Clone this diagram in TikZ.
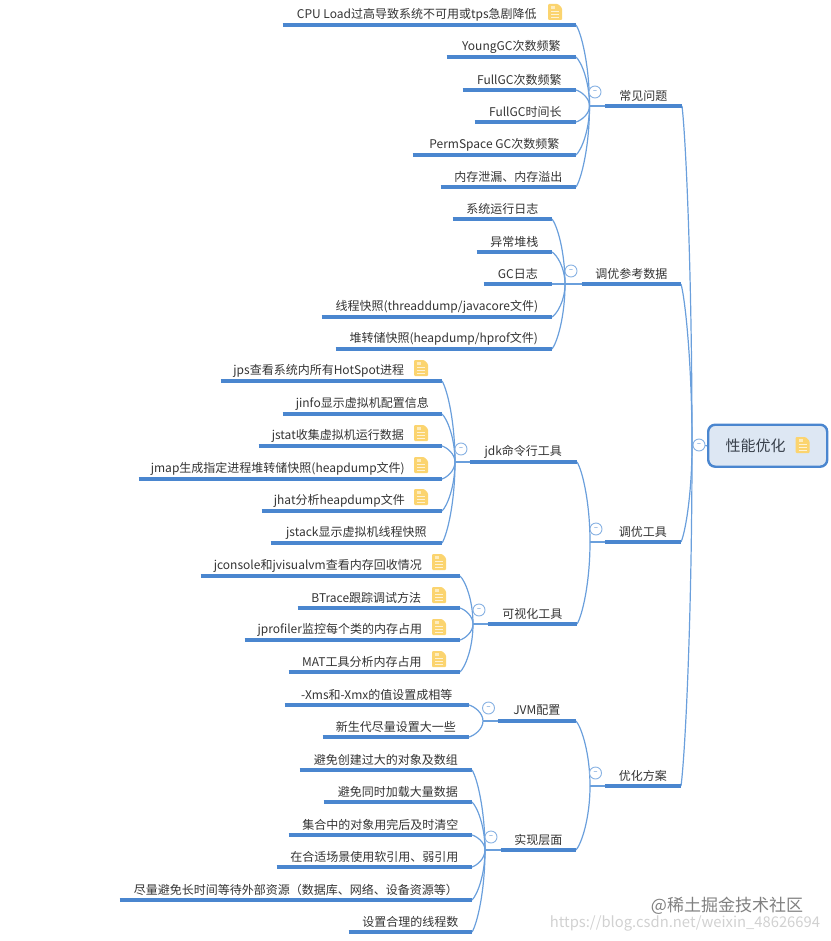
\documentclass[tikz,border=0pt]{standalone}
\usepackage{fontspec}
\setmainfont{Noto Sans CJK SC}
\usepackage{xcolor}
\usetikzlibrary{shapes,arrows,positioning,calc}
\definecolor{mapline}{HTML}{4A86CF}
\definecolor{maplink}{HTML}{6A9FDC}
\definecolor{mapfill}{HTML}{DDE7F3}
\definecolor{notefill}{HTML}{FBD46F}
\definecolor{maptext}{HTML}{333333}
\newcommand{\notegap}{\hspace*{25pt}}
\newcommand{\branch}[2]{\draw[link] let \p1=(#1), \p2=(#2.south east) in (#1) .. controls (\x1,{0.5*\y1+0.5*\y2}) and ({0.6*\x2+0.4*\x1},{0.9*\y2+0.1*\y1}) .. (\p2);}
\tikzset{
  leaf/.style={anchor=south east, inner sep=0pt, minimum height=20.5pt, align=center, font=\fontsize{12}{14}\selectfont, text=maptext},
  link/.style={draw=maplink, line width=1.2pt},
  thickbar/.style={draw=mapline, line width=3.2pt},
  collapse/.style={circle, draw=maplink!80, fill=white, line width=0.9pt, minimum size=12pt, inner sep=0pt, font=\fontsize{7}{7}\selectfont, text=mapline},
  rootbox/.style={draw=mapline, fill=mapfill, line width=2.4pt, rounded corners=7pt, minimum width=119pt, minimum height=42pt, inner sep=0pt, font=\fontsize{15}{18}\selectfont, text=maptext!85!mapline},
  noteicon/.pic={
    \fill[notefill, rounded corners=1pt] (-7,-8) -- (3,-8) -- (7,-4) -- (7,8) -- (-7,8) -- cycle;
    \draw[white!70!notefill, line width=0.7pt] (-4,-1) -- (4,-1) (-4,2) -- (4,2) (-4,5) -- (4,5);
    \fill[white!55!notefill] (-4,-6) rectangle (0,-3);
  }
}
\begin{document}
\begin{tikzpicture}[x=1pt, y=-1pt]
\useasboundingbox (0,0) rectangle (830,941);

\node[rootbox, anchor=north west] (root) at (707,423.5) {\hspace*{-24pt}性能优化};
\pic at (802.5,445) {noteicon};

\node[leaf, minimum width=77pt] (issues) at (682,106) {常见问题};
\node[leaf, minimum width=99pt] (refdata) at (681,284) {调优参考数据};
\node[leaf, minimum width=76pt] (tools) at (681,542) {调优工具};
\node[leaf, minimum width=76pt] (plan) at (681,786) {优化方案};

\node[leaf, minimum width=293pt] (cpu) at (576,25) {CPU Load过高导致系统不可用或tps急剧降低\notegap};
\node[leaf, minimum width=129pt] (young) at (576,57) {YoungGC次数频繁};
\node[leaf, minimum width=113pt] (fullgc) at (576,90) {FullGC次数频繁};
\node[leaf, minimum width=101pt] (fulltime) at (576,122) {FullGC时间长};
\node[leaf, minimum width=163pt] (perm) at (576,155) {PermSpace GC次数频繁};
\node[leaf, minimum width=135pt] (leak) at (576,187) {内存泄漏、内存溢出};

\node[leaf, minimum width=99pt] (syslog) at (552,219) {系统运行日志};
\node[leaf, minimum width=75pt] (stack) at (552,252) {异常堆栈};
\node[leaf, minimum width=68pt] (gclog) at (552,284) {GC日志};
\node[leaf, minimum width=230pt] (thread) at (552,317) {线程快照(threaddump/javacore文件)};
\node[leaf, minimum width=216pt] (heap) at (552,349) {堆转储快照(heapdump/hprof文件)};

\node[leaf, minimum width=107pt] (jdk) at (577,462) {jdk命令行工具};
\node[leaf, minimum width=89pt] (visual) at (577,624) {可视化工具};

\node[leaf, minimum width=221pt] (jps) at (442,381) {jps查看系统内所有HotSpot进程\notegap};
\node[leaf, minimum width=159pt] (jinfo) at (442,414) {jinfo显示虚拟机配置信息};
\node[leaf, minimum width=183pt] (jstat) at (442,446) {jstat收集虚拟机运行数据\notegap};
\node[leaf, minimum width=303pt] (jmap) at (442,479) {jmap生成指定进程堆转储快照(heapdump文件)\notegap};
\node[leaf, minimum width=180pt] (jhat) at (442,511) {jhat分析heapdump文件\notegap};
\node[leaf, minimum width=171pt] (jstack) at (442,543) {jstack显示虚拟机线程快照};

\node[leaf, minimum width=259pt] (jconsole) at (460,576) {jconsole和jvisualvm查看内存回收情况\notegap};
\node[leaf, minimum width=162pt] (btrace) at (460,608) {BTrace跟踪调试方法\notegap};
\node[leaf, minimum width=215pt] (jprofiler) at (460,640) {jprofiler监控每个类的内存占用\notegap};
\node[leaf, minimum width=171pt] (mat) at (460,672) {MAT工具分析内存占用\notegap};

\node[leaf, minimum width=78pt] (jvm) at (576,721) {JVM配置};
\node[leaf, minimum width=75pt] (impl) at (576,850) {实现层面};

\node[leaf, minimum width=184pt] (xms) at (469,705) {-Xms和-Xmx的值设置成相等};
\node[leaf, minimum width=146pt] (newgen) at (469,737) {新生代尽量设置大一些};

\node[leaf, minimum width=172pt] (bigobj) at (472,770) {避免创建过大的对象及数组};
\node[leaf, minimum width=148pt] (bulk) at (472,802) {避免同时加载大量数据};
\node[leaf, minimum width=183pt] (clear) at (472,835) {集合中的对象用完后及时清空};
\node[leaf, minimum width=195pt] (softref) at (472,867) {在合适场景使用软引用、弱引用};
\node[leaf, minimum width=352pt] (waitres) at (472,900) {尽量避免长时间等待外部资源（数据库、网络、设备资源等）};
\node[leaf, minimum width=123pt] (threads) at (472,932) {设置合理的线程数};

\coordinate (jroot) at (692,445);
\coordinate (jissues) at (589.5,106);
\coordinate (jrefdata) at (565,284);
\coordinate (jtools) at (590,542);
\coordinate (jplan) at (590,786);
\coordinate (jjdk) at (455,462);
\coordinate (jvisual) at (473,624);
\coordinate (jjvm) at (483,721);
\coordinate (jimpl) at (485,850);

\foreach \c in {issues,refdata,tools,plan} {\branch{jroot}{\c}}
\foreach \c in {cpu,young,fullgc,fulltime,perm,leak} {\branch{jissues}{\c}}
\foreach \c in {syslog,stack,gclog,thread,heap} {\branch{jrefdata}{\c}}
\foreach \c in {jdk,visual} {\branch{jtools}{\c}}
\foreach \c in {jps,jinfo,jstat,jmap,jhat,jstack} {\branch{jjdk}{\c}}
\foreach \c in {jconsole,btrace,jprofiler,mat} {\branch{jvisual}{\c}}
\foreach \c in {jvm,impl} {\branch{jplan}{\c}}
\foreach \c in {xms,newgen} {\branch{jjvm}{\c}}
\foreach \c in {bigobj,bulk,clear,softref,waitres,threads} {\branch{jimpl}{\c}}

\draw[link] (jroot) -- (root.west);
\foreach \b/\j in {issues/jissues,refdata/jrefdata,tools/jtools,plan/jplan,jdk/jjdk,visual/jvisual,jvm/jjvm,impl/jimpl}
  \draw[link] (\j) -- (\b.south west);
\foreach \c in {issues,refdata,tools,plan,cpu,young,fullgc,fulltime,perm,leak,syslog,stack,gclog,thread,heap,jdk,visual,jps,jinfo,jstat,jmap,jhat,jstack,jconsole,btrace,jprofiler,mat,jvm,impl,xms,newgen,bigobj,bulk,clear,softref,waitres,threads}
  \draw[thickbar] (\c.south west) -- (\c.south east);

\foreach \x/\y in {699/445,595/92,571/271,596/529,595.5/773,461/449,479/610,488.5/708,491/837}
  \node[collapse] at (\x,\y) {−};

\foreach \x/\y in {555/12,421/368,421/433,421/465,421/497,439/562,439/595,439/627,439/659}
  \pic at (\x,\y) {noteicon};

\node[font=\fontsize{17}{18}\selectfont, text=black!50] (wmone) at (727,906) {@稀土掘金技术社区};
\node[font=\fontsize{14.8}{16}\selectfont, text=black!18] (wmtwo) at (685,923) {https://blog.csdn.net/weixin\_48626694};
\end{tikzpicture}
\end{document}
